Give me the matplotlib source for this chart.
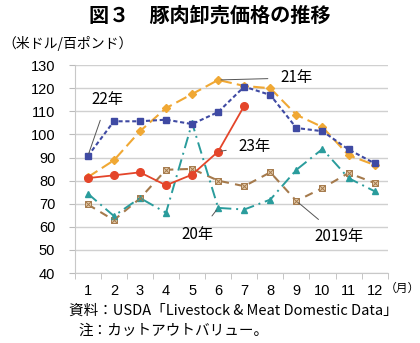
import matplotlib
matplotlib.use('Agg')
import matplotlib.pyplot as plt
import numpy as np

plt.rcParams['font.family'] = ['Noto Sans CJK JP', 'DejaVu Sans']

months = list(range(1, 13))
month_labels = [str(m) for m in months]
y_ticks = [40, 50, 60, 70, 80, 90, 100, 110, 120, 130]

pork_2019 = [69.7, 62.9, 72.3, 84.7, 85.1, 80.0, 77.6, 83.6, 71.2, 76.8, 83.3, 79.0]
pork_2020 = [74.4, 64.7, 72.5, 66.1, 105.0, 68.2, 67.5, 71.8, 84.7, 93.7, 81.1, 75.4]
pork_2021 = [81.5, 88.8, 101.4, 111.4, 117.5, 123.6, 121.0, 120.0, 108.5, 103.2, 91.0, 86.8]
pork_2022 = [90.6, 105.7, 105.7, 106.4, 104.5, 109.7, 120.7, 117.1, 102.8, 101.4, 93.5, 87.5]
pork_2023 = [81.1, 82.3, 83.6, 78.0, 82.6, 92.6, 112.4]

fig = plt.figure(figsize=(4.2, 3.43), dpi=100)
ax = fig.add_axes([0.178, 0.204, 0.745, 0.606])

# 2019 brown, boxed-x markers
ax.plot(months, pork_2019, color='#a57a4c', lw=1.5, ls=(0, (4, 3)), marker='s', ms=5,
        mfc='#e2c9a8', mec='#a57a4c', mew=0.7, zorder=3)
ax.plot(months, pork_2019, ls='none', marker='x', ms=3.8, mec='#a57a4c', mew=0.7, zorder=4)
# 2020 teal
ax.plot(months, pork_2020, color='#2a9c9c', lw=1.4, ls=(0, (6, 2.5, 1, 2.5)), marker='^',
        ms=5, zorder=3)
# 2021 orange
ax.plot(months, pork_2021, color='#f0a834', lw=1.5, ls=(0, (5.5, 2.5)), marker='D', ms=4, zorder=3)
# 2022 blue
ax.plot(months, pork_2022, color='#3f4aa3', lw=1.5, ls=(0, (2, 1.3)), marker='s', ms=5, zorder=4)
# 2023 red
ax.plot(months[:len(pork_2023)], pork_2023, color='#e4452a', lw=1.3, marker='o', ms=5.5, zorder=5)

ax.set_xlim(0.5, 12.5)
ax.set_ylim(40, 130)
ax.set_yticks(y_ticks)
ax.set_xticks(months)
ax.set_xticklabels(month_labels)
ax.set_xticks(np.arange(0.5, 13, 1), minor=True)
ax.tick_params(axis='x', which='major', length=0, pad=8, labelsize=10.5)
ax.tick_params(axis='x', which='minor', length=4, color='#bbbbbb', direction='out')
ax.tick_params(axis='y', length=4, color='#bbbbbb', labelsize=10.5, pad=10)
for lab in ax.get_xticklabels() + ax.get_yticklabels():
    lab.set_family(['Liberation Sans', 'DejaVu Sans'])
ax.grid(axis='y', color='#d0d0d0', lw=1)
ax.set_axisbelow(True)
for s in ['top', 'right']:
    ax.spines[s].set_visible(False)
ax.spines['left'].set_color('#c8c8c8')
ax.spines['bottom'].set_color('#c8c8c8')

def label(text, xy, xytext):
    ax.annotate(text, xy=xy, xytext=xytext, textcoords='data', fontsize=11,
                ha='center', va='center', zorder=6,
                arrowprops=dict(arrowstyle='-', color='#555555', lw=0.7, shrinkA=7, shrinkB=2))

label('22年', (months[0], pork_2022[0]), (1.75, 115))
label('21年', (months[5], pork_2021[5]), (9.0, 124.5))
label('23年', (months[5], pork_2023[5]), (7.4, 95))
label('20年', (months[5], pork_2020[5]), (5.2, 56.5))
label('2019年', (months[8], pork_2019[8]), (10.65, 55.6))

fig.text(0.5, 0.956, '図３　豚肉卸売価格の推移', ha='center', va='center', fontsize=14.5,
         fontweight='bold')
fig.text(0.005, 0.872, '（米ドル/百ポンド）', ha='left', va='center', fontsize=10)
fig.text(0.999, 0.158, '（月）', ha='right', va='center', fontsize=8.5)
fig.text(0.165, 0.093, '資料：USDA「Livestock & Meat Domestic Data」', ha='left', va='center',
         fontsize=10.5)
fig.text(0.186, 0.036, '注：カットアウトバリュー。', ha='left', va='center', fontsize=10.5)

fig.savefig('out.png', dpi=100)
